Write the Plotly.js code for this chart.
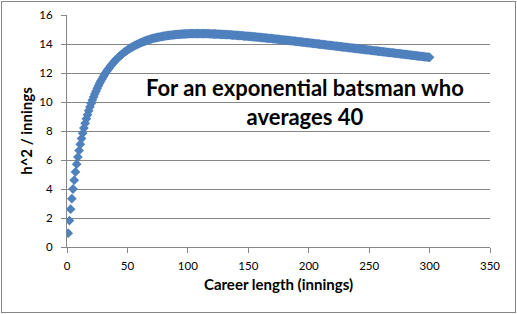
<!DOCTYPE html>
<html>
<head>
<meta charset="utf-8">
<script src="https://cdn.plot.ly/plotly-3.0.1.min.js"></script>
<style>
html, body { margin: 0; padding: 0; background: #fff; }
#wrap { position: relative; width: 517px; height: 314px; }
#chart { width: 517px; height: 314px; }
#frame { position: absolute; left: 1px; top: 1px; width: 513px; height: 310px; border: 1px solid #868686; pointer-events: none; }
</style>
</head>
<body>
<div id="wrap"><div id="chart"></div><div id="frame"></div></div>
<script>
// Career length starts at innings 1, one point per innings
const firstInnings = 1;
const inningsStep = 1;
// h^2 / innings for innings 1..300
const hSquaredPerInnings = [
0.95,1.82,2.61,3.33,4.00,4.61,5.18,5.71,6.20,6.65,
7.08,7.48,7.85,8.20,8.53,8.84,9.12,9.40,9.66,9.90,
10.13,10.35,10.56,10.75,10.94,11.12,11.29,11.45,11.59,11.74,
11.88,12.01,12.13,12.25,12.37,12.48,12.58,12.68,12.78,12.87,
12.96,13.04,13.12,13.19,13.27,13.34,13.40,13.47,13.53,13.58,
13.64,13.70,13.75,13.80,13.84,13.89,13.93,13.97,14.01,14.05,
14.09,14.12,14.16,14.19,14.22,14.25,14.28,14.30,14.33,14.35,
14.38,14.40,14.42,14.44,14.46,14.48,14.49,14.51,14.53,14.54,
14.55,14.57,14.58,14.59,14.60,14.61,14.62,14.63,14.64,14.65,
14.66,14.66,14.67,14.68,14.68,14.69,14.69,14.70,14.70,14.70,
14.71,14.71,14.71,14.71,14.71,14.72,14.72,14.72,14.72,14.72,
14.71,14.71,14.71,14.71,14.71,14.71,14.71,14.70,14.70,14.70,
14.69,14.69,14.69,14.68,14.68,14.68,14.67,14.67,14.66,14.66,
14.65,14.65,14.64,14.64,14.63,14.63,14.62,14.61,14.61,14.60,
14.59,14.59,14.58,14.58,14.57,14.56,14.55,14.55,14.54,14.53,
14.52,14.52,14.51,14.50,14.49,14.49,14.48,14.47,14.46,14.45,
14.44,14.44,14.43,14.42,14.41,14.40,14.39,14.38,14.38,14.37,
14.36,14.35,14.34,14.33,14.32,14.31,14.30,14.29,14.28,14.27,
14.27,14.26,14.25,14.24,14.23,14.22,14.21,14.20,14.19,14.18,
14.17,14.16,14.15,14.14,14.13,14.12,14.11,14.10,14.09,14.08,
14.07,14.06,14.05,14.04,14.03,14.02,14.01,14.00,13.99,13.98,
13.97,13.96,13.95,13.94,13.93,13.92,13.91,13.90,13.89,13.88,
13.87,13.86,13.85,13.84,13.83,13.82,13.81,13.80,13.79,13.78,
13.77,13.76,13.75,13.74,13.73,13.72,13.71,13.70,13.69,13.68,
13.67,13.66,13.65,13.64,13.63,13.62,13.61,13.60,13.59,13.58,
13.57,13.56,13.55,13.54,13.53,13.52,13.51,13.50,13.49,13.48,
13.47,13.46,13.45,13.44,13.43,13.42,13.41,13.40,13.39,13.38,
13.37,13.36,13.35,13.34,13.33,13.32,13.31,13.30,13.29,13.28,
13.27,13.26,13.25,13.24,13.23,13.22,13.21,13.20,13.19,13.18,
13.17,13.16,13.15,13.14,13.13,13.12,13.11,13.10,13.09,13.08
];
const xTickValues = [0, 50, 100, 150, 200, 250, 300, 350];
const yTickValues = [0, 2, 4, 6, 8, 10, 12, 14, 16];
const xTitle = 'Career length (innings)';
const yTitle = 'h^2 / innings';
const noteText = 'For an exponential batsman who<br>averages 40';

const FONT = 'Lato, "Open Sans", sans-serif';
const AX = '#868686';

const trace = {
  type: 'scatter',
  mode: 'markers',
  x0: firstInnings,
  dx: inningsStep,
  y: hSquaredPerInnings,
  marker: { symbol: 'diamond', size: 7.5, color: '#4F81BD', line: { width: 0 } },
  hoverinfo: 'x+y',
  showlegend: false
};

const layout = {
  width: 517,
  height: 314,
  margin: { l: 67, r: 27, t: 15, b: 67, pad: 0 },
  paper_bgcolor: '#fff',
  plot_bgcolor: '#fff',
  font: { family: FONT, color: '#000', size: 11 },
  showlegend: false,
  xaxis: {
    range: [0, 350],
    tickvals: xTickValues,
    ticktext: xTickValues.map(String),
    showgrid: false,
    zeroline: false,
    showline: true,
    linecolor: AX,
    linewidth: 1,
    ticks: 'outside',
    ticklen: 5,
    tickwidth: 1,
    tickcolor: AX,
    ticklabelstandoff: 3,
    tickfont: { family: FONT, size: 11.5, color: '#000' },
    title: { text: xTitle, font: { family: FONT, size: 15, color: '#000', weight: 'bold' }, standoff: 8 },
    fixedrange: true
  },
  yaxis: {
    range: [0, 16],
    tickvals: yTickValues,
    ticktext: yTickValues.map(String),
    showgrid: true,
    gridcolor: AX,
    gridwidth: 1,
    zeroline: false,
    showline: true,
    linecolor: AX,
    linewidth: 1,
    ticks: 'outside',
    ticklen: 5,
    tickwidth: 1,
    tickcolor: AX,
    ticklabelstandoff: 6,
    tickfont: { family: FONT, size: 11.5, color: '#000' },
    title: { text: yTitle, font: { family: FONT, size: 15, color: '#000', weight: 'bold' }, standoff: 3 },
    fixedrange: true
  },
  annotations: [{
    text: noteText,
    x: 197, y: 10, xref: 'x', yref: 'y',
    xanchor: 'center', yanchor: 'middle', align: 'center',
    showarrow: false,
    font: { family: FONT, size: 22, color: '#000', weight: 'bold' }
  }]
};

Plotly.newPlot('chart', [trace], layout, { staticPlot: true, displayModeBar: false });
</script>
</body>
</html>
